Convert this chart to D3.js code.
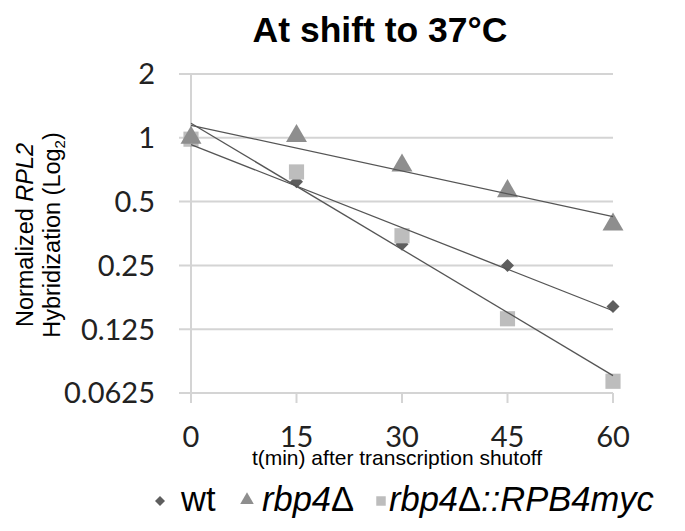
<!DOCTYPE html>
<html>
<head>
<meta charset="utf-8">
<script src="https://cdn.jsdelivr.net/npm/d3@7"></script>
<style>
  body { margin: 0; background: #fff; }
  svg { display: block; }
</style>
</head>
<body>
<div id="chart"></div>
<script>
// data
var times = [0, 15, 30, 45, 60];
var wtVals = [0.97, 0.62, 0.315, 0.25, 0.16];
var rbp4Vals = [1.0, 1.02, 0.74, 0.56, 0.39];
var rescueVals = [0.985, 0.69, 0.345, 0.14, 0.071];
var yTicks = [2, 1, 0.5, 0.25, 0.125, 0.0625];
var yTickLabels = ["2", "1", "0.5", "0.25", "0.125", "0.0625"];

var width = 685, height = 531;

var svg = d3.select("#chart").append("svg")
    .attr("width", width)
    .attr("height", height);

svg.append("rect").attr("width", width).attr("height", height).attr("fill", "#fff");

var x = d3.scaleLinear().domain([0, 60]).range([191, 613]);
var y = d3.scaleLog().base(2).domain([0.0625, 2]).range([393, 74]);

// title
svg.append("text")
    .attr("x", 380).attr("y", 42)
    .attr("text-anchor", "middle")
    .style("font-family", "Liberation Sans, Arial")
    .style("font-weight", "bold")
    .style("font-size", "35.5px")
    .text("At shift to 37\u00b0C");

// gridlines (they run out past the axis as ticks)
svg.append("g").selectAll("line")
    .data(yTicks)
  .enter().append("line")
    .attr("x1", 179).attr("x2", x(60))
    .attr("y1", function(d) { return y(d); })
    .attr("y2", function(d) { return y(d); })
    .attr("stroke", "#d4d4d4")
    .attr("stroke-width", 2);

// y axis line
svg.append("line")
    .attr("x1", x(0)).attr("x2", x(0))
    .attr("y1", y(2)).attr("y2", y(0.0625) + 10)
    .attr("stroke", "#d4d4d4").attr("stroke-width", 2);

// x ticks
svg.append("g").selectAll("line")
    .data(times)
  .enter().append("line")
    .attr("x1", function(d) { return x(d); })
    .attr("x2", function(d) { return x(d); })
    .attr("y1", y(0.0625)).attr("y2", y(0.0625) + 10)
    .attr("stroke", "#d4d4d4").attr("stroke-width", 2);

// y tick labels
svg.append("g").selectAll("text")
    .data(yTicks)
  .enter().append("text")
    .attr("x", 155)
    .attr("y", function(d) { return y(d); })
    .attr("dy", "0.36em")
    .attr("text-anchor", "end")
    .style("font-family", "Lato")
    .style("font-size", "29px")
    .style("fill", "#222")
    .text(function(d, i) { return yTickLabels[i]; });

// x tick labels
svg.append("g").selectAll("text")
    .data(times)
  .enter().append("text")
    .attr("x", function(d) { return x(d); })
    .attr("y", 447)
    .attr("text-anchor", "middle")
    .style("font-family", "Lato")
    .style("font-size", "29px")
    .style("fill", "#222")
    .text(function(d) { return d; });

// x axis title
svg.append("text")
    .attr("x", 397).attr("y", 465)
    .attr("text-anchor", "middle")
    .style("font-family", "Liberation Sans, Arial")
    .style("font-size", "21px")
    .text("t(min) after transcription shutoff");

// y axis title, two lines
var yt = svg.append("text")
    .attr("transform", "translate(33,235) rotate(-90)")
    .attr("text-anchor", "middle")
    .style("font-family", "Liberation Sans, Arial")
    .style("font-size", "23.5px");
yt.append("tspan").text("Normalized ");
yt.append("tspan").style("font-style", "italic").text("RPL2");

var yt2 = svg.append("text")
    .attr("transform", "translate(60,235) rotate(-90)")
    .attr("text-anchor", "middle")
    .style("font-family", "Liberation Sans, Arial")
    .style("font-size", "23.5px");
yt2.append("tspan").text("Hybridization (Log");
yt2.append("tspan").attr("dy", 5).style("font-size", "15px").text("2");
yt2.append("tspan").attr("dy", -5).text(")");

var series = [
  { name: "wt", vals: wtVals, shape: d3.symbolSquare, size: 85, color: "#5e5e5e", rot: 45 },
  { name: "rescue", vals: rescueVals, shape: d3.symbolSquare, size: 230, color: "#bdbdbd", rot: 0 },
  { name: "rbp4", vals: rbp4Vals, shape: d3.symbolTriangle, size: 190, color: "#8e8e8e", rot: 0 }
];

// markers
series.forEach(function(s) {
  svg.append("g").selectAll("path")
      .data(s.vals)
    .enter().append("path")
      .attr("d", d3.symbol().type(s.shape).size(s.size))
      .attr("transform", function(d, i) {
        return "translate(" + x(times[i]) + "," + y(d) + ") rotate(" + s.rot + ")";
      })
      .attr("fill", s.color);
});

// exponential trend lines: least squares on log2 values
function fit(vals) {
  var ly = vals.map(function(v) { return Math.log2(v); });
  var mt = d3.mean(times), my = d3.mean(ly);
  var num = 0, den = 0;
  times.forEach(function(t, i) { num += (t - mt) * (ly[i] - my); den += (t - mt) * (t - mt); });
  var b = num / den, a = my - b * mt;
  return [0, 60].map(function(t) { return [t, Math.pow(2, a + b * t)]; });
}

var line = d3.line()
    .x(function(d) { return x(d[0]); })
    .y(function(d) { return y(d[1]); });

series.forEach(function(s) {
  svg.append("path")
      .datum(fit(s.vals))
      .attr("d", line)
      .attr("fill", "none")
      .attr("stroke", "#555")
      .attr("stroke-width", 1.3);
});

// legend
var legendY = 511;
var legendFont = "34.5px";
var lg = svg.append("g");
lg.append("path")
    .attr("d", d3.symbol().type(d3.symbolSquare).size(50))
    .attr("transform", "translate(160," + (legendY - 10) + ") rotate(45)")
    .attr("fill", "#5e5e5e");
lg.append("text").attr("x", 181).attr("y", legendY)
    .style("font-family", "Liberation Sans, Arial").style("font-size", legendFont)
    .text("wt");
lg.append("path")
    .attr("d", d3.symbol().type(d3.symbolTriangle).size(80))
    .attr("transform", "translate(247," + (legendY - 11) + ")")
    .attr("fill", "#8e8e8e");
var l2 = lg.append("text").attr("x", 262).attr("y", legendY)
    .style("font-family", "Liberation Sans, Arial").style("font-size", legendFont);
l2.append("tspan").style("font-style", "italic").text("rbp4");
l2.append("tspan").text("\u0394");
lg.append("path")
    .attr("d", d3.symbol().type(d3.symbolSquare).size(90))
    .attr("transform", "translate(381," + (legendY - 10) + ")")
    .attr("fill", "#bdbdbd");
var l3 = lg.append("text").attr("x", 389).attr("y", legendY)
    .style("font-family", "Liberation Sans, Arial").style("font-size", legendFont);
l3.append("tspan").style("font-style", "italic").text("rbp4");
l3.append("tspan").text("\u0394");
l3.append("tspan").style("font-style", "italic").text("::RPB4myc");
</script>
</body>
</html>
